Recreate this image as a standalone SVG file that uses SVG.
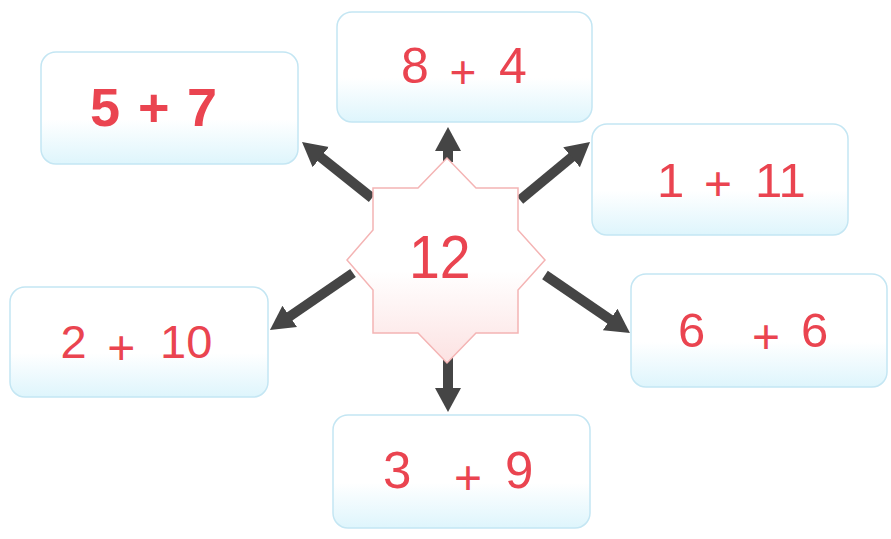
<svg xmlns="http://www.w3.org/2000/svg" width="891" height="539" viewBox="0 0 891 539">
<defs>
<linearGradient id="boxg" x1="0" y1="0" x2="0" y2="1">
<stop offset="0" stop-color="#ffffff"/>
<stop offset="0.6" stop-color="#ffffff"/>
<stop offset="1" stop-color="#def5fc"/>
</linearGradient>
<linearGradient id="starg" x1="0" y1="0" x2="0" y2="1">
<stop offset="0" stop-color="#ffffff"/>
<stop offset="0.55" stop-color="#ffffff"/>
<stop offset="1" stop-color="#fce2e2"/>
</linearGradient>
<marker id="ah" markerUnits="userSpaceOnUse" markerWidth="26" markerHeight="28" refX="2" refY="14" orient="auto">
<path d="M0,1 L24,14 L0,27 z" fill="#454545"/>
</marker>
</defs>
<style>
.box{fill:url(#boxg);stroke:#c4e6f3;stroke-width:1.5}
.t{font-family:"Liberation Sans",Arial,sans-serif;fill:#ea4450}
.b{font-weight:bold}
.conn line{stroke:#454545;stroke-width:10;marker-end:url(#ah)}
</style>
<rect width="891" height="539" fill="#ffffff"/>
<g id="connectors" class="conn">
<line x1="372" y1="198" x2="319.2" y2="155.8"/>
<line x1="520" y1="200" x2="573.1" y2="156"/>
<line x1="353" y1="273" x2="288.1" y2="317.5"/>
<line x1="545" y1="275" x2="611.8" y2="320.6"/>
<line x1="448" y1="162" x2="448" y2="149"/>
<line x1="448" y1="358" x2="448" y2="390"/>
</g>
<g id="center">
<polygon points="447,158 418,188 373,188 373,230 347,260 373,290 373,333 418,333 447,363 476,333 518,333 518,290 545,260 518,230 518,188 476,188" fill="url(#starg)" stroke="#f4b4b4" stroke-width="1.5"/>
<text class="t" x="409" y="278" font-size="62" textLength="61.7" lengthAdjust="spacingAndGlyphs">12</text>
</g>
<g id="n57">
<rect class="box" x="41" y="52" width="257" height="112" rx="15"/>
<text class="t b" y="126" font-size="54"><tspan x="90">5</tspan><tspan x="138">+</tspan><tspan x="187">7</tspan></text>
</g>
<g id="n84">
<rect class="box" x="337" y="12" width="255" height="110" rx="15"/>
<text class="t" font-size="50"><tspan x="401" y="83">8</tspan><tspan x="449.5" y="88" font-size="46">+</tspan><tspan x="499" y="83">4</tspan></text>
</g>
<g id="n111">
<rect class="box" x="592" y="124" width="256" height="111" rx="15"/>
<text class="t" font-size="49"><tspan x="657" y="197">1</tspan><tspan x="704" y="200" font-size="48">+</tspan><tspan x="755" y="197">11</tspan></text>
</g>
<g id="n210">
<rect class="box" x="10" y="287" width="258" height="110" rx="15"/>
<text class="t" font-size="47"><tspan x="60.6" y="358">2</tspan><tspan x="107.3" y="363.6" font-size="48">+</tspan><tspan x="160" y="358">10</tspan></text>
</g>
<g id="n66">
<rect class="box" x="631" y="274" width="256" height="113" rx="15"/>
<text class="t" font-size="49"><tspan x="678" y="347">6</tspan><tspan x="752" y="352.6" font-size="48">+</tspan><tspan x="801" y="347">6</tspan></text>
</g>
<g id="n39">
<rect class="box" x="333" y="415" width="257" height="113" rx="15"/>
<text class="t" font-size="51"><tspan x="383" y="488">3</tspan><tspan x="454" y="494" font-size="48">+</tspan><tspan x="505" y="488">9</tspan></text>
</g>
</svg>
